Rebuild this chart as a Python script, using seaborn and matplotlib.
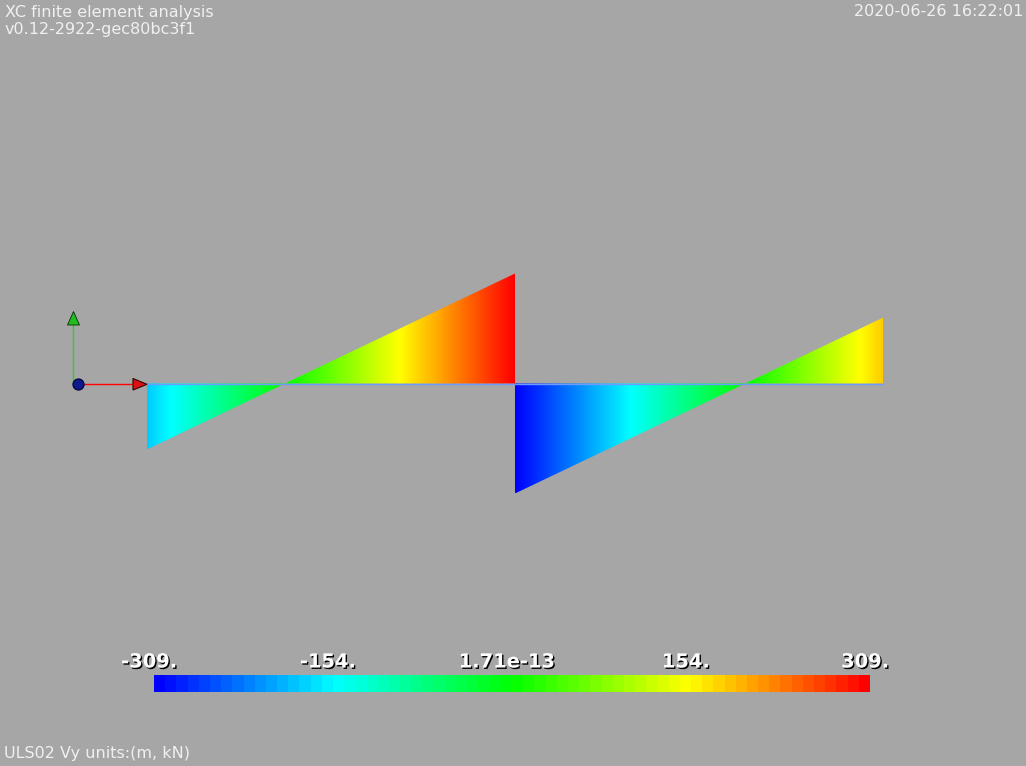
import colorsys

import numpy as np
import matplotlib
matplotlib.use('Agg')
import matplotlib.pyplot as plt
import matplotlib.patheffects as pe
import matplotlib.transforms as mtransforms
from matplotlib.colors import ListedColormap, LinearSegmentedColormap, Normalize
from matplotlib.patches import Polygon
import seaborn as sns

BG = (0.65, 0.65, 0.65)
TXT = '#f0f0f0'

# shear force diagram, two spans (m, kN)
span1_x = [0.0, 5.0]
span1_v = [-185.0, 309.0]
span2_x = [5.0, 10.0]
span2_v = [-309.0, 185.0]

vmin, vmax = -309.0, 309.0
cbar_ticks = [-309.0, -154.5, 0.0, 154.5, 309.0]
cbar_labels = ['-309.', '-154.', '1.71e-13', '154.', '309.']

title_lines = ['XC finite element analysis', 'v0.12-2922-gec80bc3f1']
timestamp = '2020-06-26 16:22:01'
caption = 'ULS02 Vy units:(m, kN)'

W, H = 1026, 766

sns.set_theme(style='white', rc={'figure.facecolor': BG, 'axes.facecolor': BG,
                                 'savefig.facecolor': BG})
plt.rcParams['font.family'] = ['DejaVu Sans']


def hsv_colors(n):
    # vtk style rainbow: hue 0.667 (blue) -> 0 (red)
    return [colorsys.hsv_to_rgb(0.6667 * (1 - i / (n - 1)), 1.0, 1.0) for i in range(n)]


smooth_cmap = LinearSegmentedColormap.from_list('vtk_rainbow', hsv_colors(256))
lut_cmap = ListedColormap(hsv_colors(64))
norm = Normalize(vmin, vmax)


def px(x, y):
    return x / W, 1 - y / H


fig = plt.figure(figsize=(W / 100, H / 100), dpi=100)
ax = fig.add_axes([0, 0, 1, 1])
ax.set_facecolor(BG)

# scale: 73.6 px per m, 110 px per 309 kN, beam origin at pixel (147, 383.5)
sx = 73.6
sy = 309.0 / 110.0
x_lim = (-147 / sx, (W - 147) / sx)
y_lim = (-(H - 383.5) * sy, 383.5 * sy)

for xs, vs in ((span1_x, span1_v), (span2_x, span2_v)):
    poly = ax.fill_between(xs, 0, vs, facecolor='none', edgecolor='none')
    xx = np.linspace(xs[0], xs[1], 400)
    grad = np.interp(xx, xs, vs)[np.newaxis, :]
    im = ax.imshow(grad, extent=[xs[0], xs[1], min(vs), max(vs)], cmap=smooth_cmap,
                   norm=norm, aspect='auto', origin='lower', interpolation='bilinear')
    im.set_clip_path(poly.get_paths()[0], ax.transData)

ax.plot([span1_x[0], span2_x[1]], [0, 0], color='#6e9bff', lw=1.0, zorder=5)
ax.set_xlim(*x_lim)
ax.set_ylim(*y_lim)
ax.axis('off')

# axes triad
tf = fig.transFigure
ax.plot(*zip(px(78, 384), px(134, 384)), color='#ff0000', lw=1.0, transform=tf, zorder=6)
ax.plot(*zip(px(73, 384), px(73, 325)), color='#2bd02b', lw=1.0, transform=tf, zorder=6)
ax.add_patch(Polygon([px(133, 378.5), px(133, 390), px(147, 384.3)], closed=True,
                     facecolor='#dd1111', edgecolor='#300000', lw=0.8, transform=tf, zorder=7))
ax.add_patch(Polygon([px(67.5, 325), px(79.5, 325), px(73.5, 311.5)], closed=True,
                     facecolor='#22bb22', edgecolor='#003000', lw=0.6, transform=tf, zorder=7))
ax.plot(*px(78, 384), marker='o', ms=8, mfc='#0d1a8c', mec='#000033', mew=0.8,
        transform=tf, zorder=8)

# scalar bar
cax = fig.add_axes([154 / W, 1 - 692 / H, 716 / W, 17 / H])
lut = np.linspace(vmin, vmax, 64)[np.newaxis, :]
sns.heatmap(lut, ax=cax, cmap=lut_cmap, vmin=vmin, vmax=vmax, cbar=False,
            xticklabels=False, yticklabels=False)
cax.xaxis.tick_top()
cax.set_xticks([64 * norm(t) for t in cbar_ticks])
cax.set_xticklabels(cbar_labels)
cax.tick_params(axis='x', length=0, pad=2.5, top=True, labeltop=True, bottom=False,
                labelbottom=False)
shift = mtransforms.ScaledTranslation(-5 / 100, 0, fig.dpi_scale_trans)
for lbl in cax.get_xticklabels():
    lbl.set_fontsize(14)
    lbl.set_fontweight('bold')
    lbl.set_color('white')
    lbl.set_transform(lbl.get_transform() + shift)
    lbl.set_path_effects([pe.withSimplePatchShadow(offset=(1.0, -1.0), shadow_rgbFace='black',
                                                   alpha=1.0)])

# annotations
fig.text(*px(5, 17.3), title_lines[0], color=TXT, fontsize=11.5, va='baseline', ha='left')
fig.text(*px(5, 34.3), title_lines[1], color=TXT, fontsize=11.5, va='baseline', ha='left')
fig.text(*px(1023, 16.5), timestamp, color=TXT, fontsize=11.5, va='baseline', ha='right')
fig.text(*px(4, 758), caption, color=TXT, fontsize=11.5, va='baseline', ha='left')

fig.savefig('out.png', dpi=100, facecolor=BG)
